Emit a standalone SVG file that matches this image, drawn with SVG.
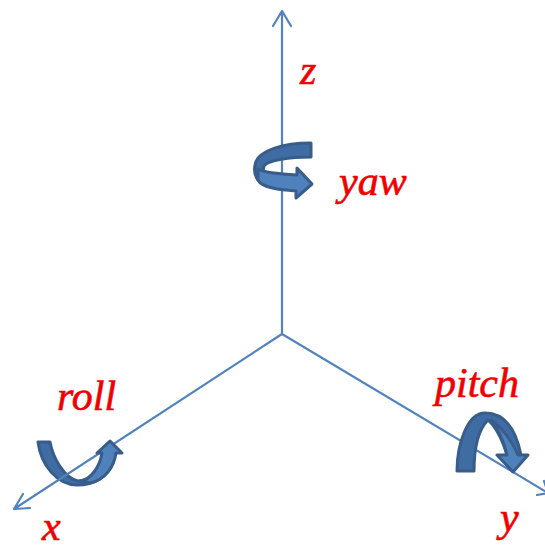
<svg xmlns="http://www.w3.org/2000/svg" width="545" height="549" viewBox="0 0 545 549">
<style>
.ax{fill:none;stroke:#5383be;stroke-width:2.2;stroke-linecap:round;stroke-linejoin:round}
.dk{fill:#3f6ca3;stroke:#385d8a;stroke-width:3;stroke-linejoin:round}
.lt{fill:#4f81bd;stroke:#385d8a;stroke-width:3;stroke-linejoin:round}
text{font-family:"Liberation Serif","Times New Roman",serif;font-style:italic;font-size:42px;fill:#f00000;stroke:#f00000;stroke-width:.6}
</style>
<rect width="545" height="549" fill="#fff"/>
<g id="roll-back"><path class="dk" d="M38,442 L50,442 C53,458 64,478 78,481 C88,481 95,475 100,465 L113,463 C108,476 95,485 77,485 C57,485 41,465 38,442 Z"/></g>
<g id="connectors">
<path class="ax" d="M282,334 V11 M273,26 L282,11 L291,26"/>
<path class="ax" d="M282,334 L14,509 M23,494 L14,509 L30,508"/>
<path class="ax" d="M282,334 L548,493 M537,495 L548,493 L544,481"/>
</g>
<g id="yaw-arrow">
<path class="dk" d="M311,143 L311,157 C290,157 268,160 264,166 L262,176 L258,180 C254,175 254,170 255,165 C257,150 285,143 311,143 Z"/>
<path class="lt" d="M258,169 C265,173 280,174 297,175 L297,168 L312,184 L296,198 L296,191 C280,190 262,188 258,180 Z"/>
</g>
<g id="roll-arrow">
<path class="lt" d="M80,481 C91,480 100,466 102,453 L97,453 L110,441 L122,453 L116,453 C114,467 105,480 90,483 Z"/>
</g>
<g id="pitch-arrow">
<path class="dk" d="M457,471 L474,471 C474,450 478,430 488,420 C497,428 503,442 507,455 L521,455 C516,430 505,413 485,413 C467,413 457,445 457,471 Z"/>
<path class="lt" d="M491,420 C500,426 512,440 518,455 L528,455 L513,472 L497,455 L507,455 C504,442 498,429 491,420 Z"/>
</g>
<g id="labels">
<text x="300" y="84">z</text>
<text x="339" y="195">yaw</text>
<text x="57" y="410">roll</text>
<text x="435" y="397">pitch</text>
<text x="42" y="540">x</text>
<text x="500" y="531">y</text>
</g>
</svg>
